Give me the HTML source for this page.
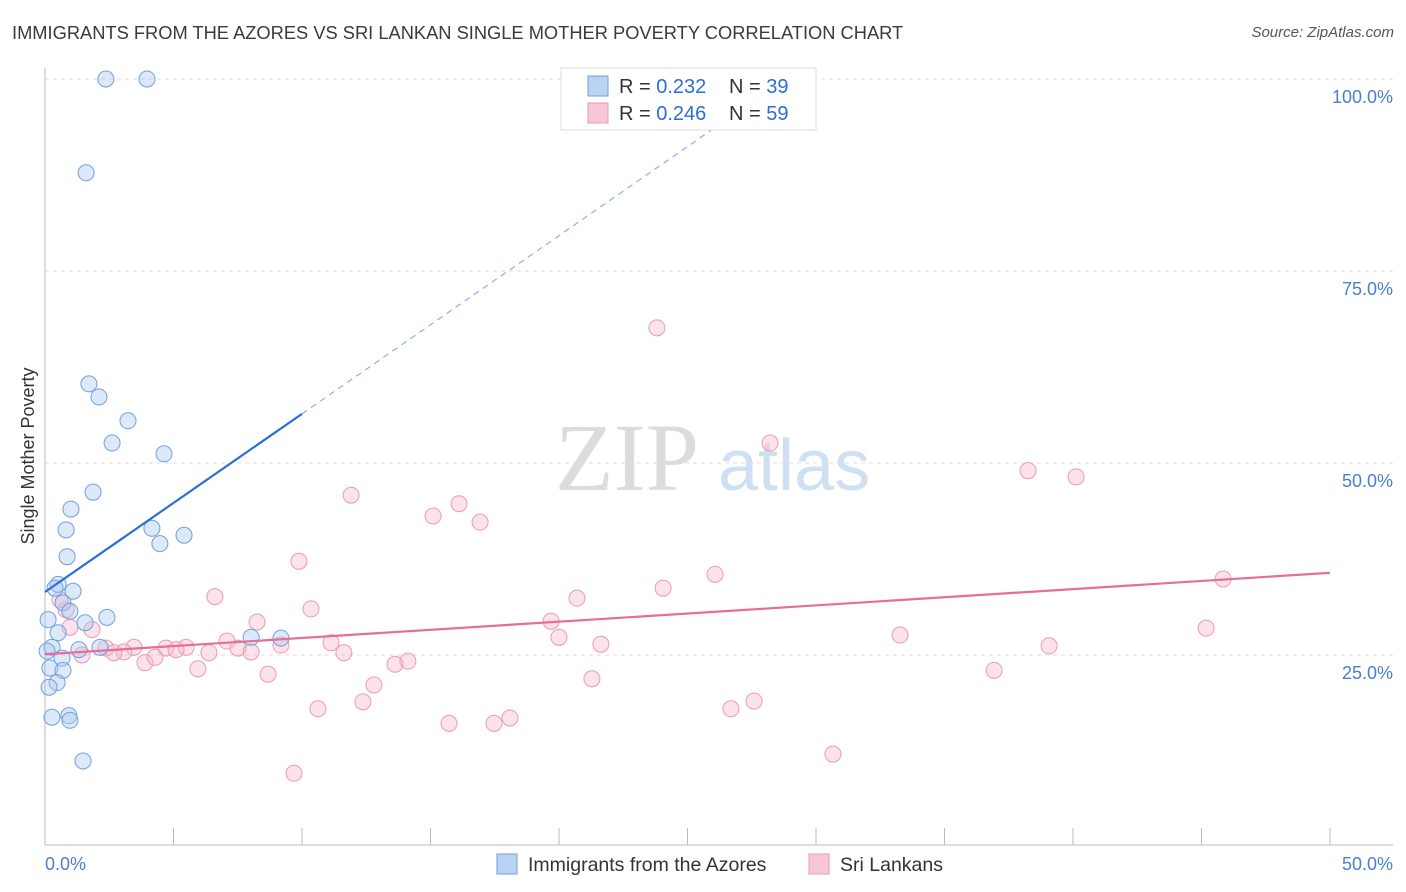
<!DOCTYPE html>
<html><head><meta charset="utf-8"><style>
body{margin:0;background:#fff;font-family:"Liberation Sans",sans-serif;}
#wrap{position:relative;width:1406px;height:892px;overflow:hidden;}
.t{position:absolute;white-space:nowrap;}
</style></head><body>
<div id="wrap">
<div class="t" style="left:12px;top:22px;font-size:18.3px;color:#3a3a3a;">IMMIGRANTS FROM THE AZORES VS SRI LANKAN SINGLE MOTHER POVERTY CORRELATION CHART</div>
<div class="t" style="right:12px;top:24px;font-size:15px;color:#555;font-style:italic;">Source: ZipAtlas.com</div>
<svg id="svg" width="1406" height="892" style="position:absolute;left:0;top:0"></svg>
</div>
<script>
const blueX=[2.37,3.97,1.60,1.71,2.10,3.23,2.61,4.63,1.87,1.01,0.82,4.16,4.47,5.41,0.86,0.51,0.39,1.09,0.70,0.97,0.12,2.41,1.56,0.51,0.27,0.08,1.32,2.14,0.66,0.19,0.70,0.47,0.16,0.27,0.93,0.97,1.48,8.02,9.18];
const blueY=[100,100,87.8,60.3,58.6,55.5,52.6,51.2,46.2,44.0,41.3,41.5,39.5,40.6,37.8,34.2,33.7,33.3,31.8,30.7,29.6,29.9,29.2,27.9,26.0,25.5,25.7,26.0,24.6,23.3,23.0,21.4,20.8,16.9,17.1,16.5,11.2,27.3,27.2];
const pinkX=[23.81,28.21,38.25,40.12,11.91,16.11,15.10,16.93,9.88,26.07,24.05,45.84,20.70,6.61,10.35,19.69,8.25,0.82,0.97,1.83,20.0,33.27,45.18,21.63,11.13,7.08,9.18,5.49,4.71,3.46,2.37,3.07,1.44,2.68,5.10,6.38,7.51,8.02,11.63,14.12,13.62,3.89,4.28,5.95,8.68,39.07,36.93,21.28,12.80,12.37,10.62,27.59,26.69,15.72,17.47,18.09,30.66,9.69,0.58];
const pinkY=[67.6,52.6,49.0,48.2,45.8,44.7,43.1,42.3,37.2,35.5,33.7,34.9,32.4,32.6,31.0,29.4,29.3,30.9,28.6,28.3,27.3,27.6,28.5,26.4,26.6,26.8,26.3,26.0,25.9,26.0,25.9,25.4,25.0,25.3,25.7,25.3,25.9,25.4,25.3,24.2,23.8,24.0,24.7,23.2,22.5,26.2,23.0,21.9,21.1,18.9,18.0,19.0,18.0,16.1,16.1,16.8,12.1,9.6,32.2];
const yTicks=[25,50,75,100];
const yTickLabels=["25.0%","50.0%","75.0%","100.0%"];
const xTicks=[0,5,10,15,20,25,30,35,40,45,50];
const blueTrend=[33.2,2.32]; // intercept, slope
const pinkTrend=[25.1,0.212];
const NS="http://www.w3.org/2000/svg";
const svg=document.getElementById('svg');
const sx=v=>45+v*25.7, sy=v=>847-v*7.68;
function mk(tag,a,p){const e=document.createElementNS(NS,tag);for(const k in a)e.setAttribute(k,a[k]);(p||svg).appendChild(e);return e;}
let w1=mk('text',{x:555,y:490,'font-size':96,'font-family':'Liberation Serif,serif',fill:'#dcdcdc'});w1.textContent='ZIP';


let w2=mk('text',{x:718,y:490,'font-size':72,'font-family':'Liberation Sans,sans-serif',fill:'#cfe0f3'});w2.textContent='atlas';


yTicks.forEach((t,i)=>{
 const g=mk('line',{x1:45,x2:1393,y1:sy(t),y2:sy(t),stroke:'#ddd','stroke-dasharray':'4,4'});
 
 
 const l=mk('text',{x:1393,y:sy(t)+24,'text-anchor':'end','font-size':18,fill:'#4a7fd0','font-family':'Liberation Sans,sans-serif'});l.textContent=yTickLabels[i];
 
 
});
let ax=mk('line',{x1:45,x2:45,y1:68,y2:845,stroke:'#bbb'});


let bx=mk('line',{x1:45,x2:1393,y1:845,y2:845,stroke:'#bbb'});


xTicks.forEach(t=>{const e=mk('line',{x1:sx(t),x2:sx(t),y1:828,y2:845,stroke:'#bbb'});
 
 });
[[0,'0.0%',45,'start'],[50,'50.0%',1393,'end']].forEach(d=>{const e=mk('text',{x:d[2],y:870,'text-anchor':d[3],'font-size':18,fill:'#4a7fd0','font-family':'Liberation Sans,sans-serif'});e.textContent=d[1];
 
 });
let yt=mk('text',{x:34,y:456,'text-anchor':'middle','font-size':18,fill:'#333',transform:'rotate(-90 34 456)','font-family':'Liberation Sans,sans-serif'});yt.textContent='Single Mother Poverty';


function pts(X,Y,fill,stroke,name){X.forEach((x,i)=>{const c=mk('circle',{cx:sx(x),cy:sy(Y[i]),r:8,fill:fill,stroke:stroke,'stroke-width':1,'fill-opacity':0.4});
 
 });}
pts(pinkX,pinkY,'#f7b6c9','#eb9ab4','point-sri-lankans');
pts(blueX,blueY,'#a9c8f0','#6fa0e0','point-azores');
let bl=mk('line',{x1:sx(0),y1:sy(blueTrend[0]),x2:sx(10),y2:sy(blueTrend[0]+10*blueTrend[1]),stroke:'#2a6fd6','stroke-width':2.2});


let bd=mk('line',{x1:sx(10),y1:sy(blueTrend[0]+10*blueTrend[1]),x2:sx(27.6),y2:sy(blueTrend[0]+27.6*blueTrend[1]),stroke:'#8ab0e4','stroke-width':1.2,'stroke-dasharray':'6,5'});


let pl=mk('line',{x1:sx(0),y1:sy(pinkTrend[0]),x2:sx(50),y2:sy(pinkTrend[0]+50*pinkTrend[1]),stroke:'#e76d98','stroke-width':2.2});


let lb=mk('rect',{x:561,y:68,width:255,height:62,fill:'#fff',stroke:'#ddd'});


[[86,'#b9d3f3','#6fa0e0','0.232','39'],[113,'#f9c6d5','#eb9ab4','0.246','59']].forEach(d=>{
 const s=mk('rect',{x:588,y:d[0]-10,width:20,height:20,fill:d[1],stroke:d[2]});
 
 
 const t=mk('text',{x:619,y:d[0]+7,'font-size':20,fill:'#333','font-family':'Liberation Sans,sans-serif'});
 t.innerHTML='R = <tspan fill="#2a6fd6">'+d[3]+'</tspan><tspan x="729">N = </tspan><tspan fill="#2a6fd6">'+d[4]+'</tspan>';
 
 
});
[[497,'#b9d3f3','#6fa0e0','Immigrants from the Azores'],[809,'#f9c6d5','#eb9ab4','Sri Lankans']].forEach(d=>{
 const s=mk('rect',{x:d[0],y:854,width:20,height:20,fill:d[1],stroke:d[2]});
 
 
 const t=mk('text',{x:d[0]+31,y:871,'font-size':19.5,fill:'#333','font-family':'Liberation Sans,sans-serif'});t.textContent=d[3];
 
 
});
</script>
</body></html>
